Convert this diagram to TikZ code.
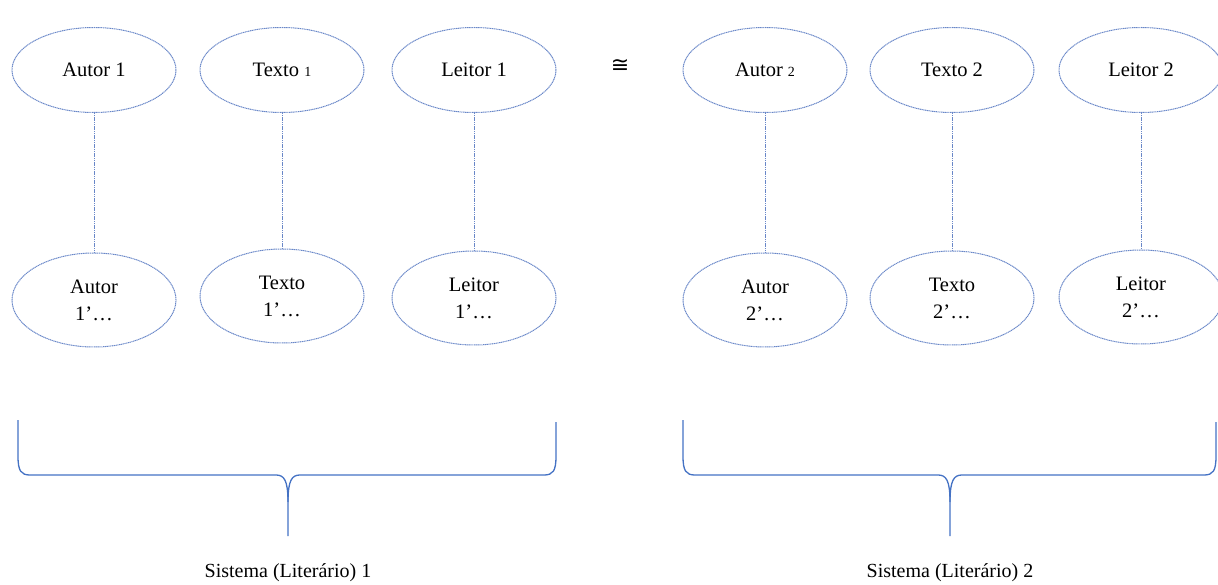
\documentclass[tikz,border=0pt]{standalone}
\usepackage{fontspec}
\setmainfont{Liberation Serif}
\newfontfamily\symfont{DejaVu Sans}
\usetikzlibrary{shapes.geometric}
\definecolor{elline}{RGB}{105,135,200}
\definecolor{brline}{RGB}{68,114,196}
\tikzset{
  elbox/.style={ellipse, draw=elline, dash pattern=on 1.2pt off 0.6pt, line width=1pt, minimum width=164pt, minimum height=85pt, inner sep=0pt, font=\fontsize{20.5}{27}\selectfont, align=center},
  elboxlow/.style={elbox, minimum height=94pt},
  link/.style={draw=elline, dash pattern=on 1.2pt off 0.6pt, line width=1pt},
  bracestyle/.style={draw=brline, line width=1.3pt},
  lbl/.style={font=\fontsize{20}{22}\selectfont}
}
\newcommand{\sm}[1]{{\fontsize{14}{14}\selectfont #1}}
\begin{document}
\begin{tikzpicture}[x=1pt,y=-1pt]
\useasboundingbox (0,0) rectangle (1218,585);
% top row
\node[elbox] (a1) at (94,70) {Autor 1};
\node[elbox] (t1) at (282,70) {Texto \sm{1}};
\node[elbox] (l1) at (474,70) {Leitor 1};
\node[elbox] (a2) at (765,70) {Autor \sm{2}};
\node[elbox] (t2) at (952,70) {Texto 2};
\node[elbox] (l2) at (1141,70) {Leitor 2};
% bottom row
\node[elboxlow] (a1b) at (94,300) {Autor\\1’…};
\node[elboxlow] (t1b) at (282,296) {Texto\\1’…};
\node[elboxlow] (l1b) at (474,298) {Leitor\\1’…};
\node[elboxlow] (a2b) at (765,300) {Autor\\2’…};
\node[elboxlow] (t2b) at (952,298) {Texto\\2’…};
\node[elboxlow] (l2b) at (1141,297) {Leitor\\2’…};
% connectors
\foreach \u/\v in {a1/a1b,t1/t1b,l1/l1b,a2/a2b,t2/t2b,l2/l2b}
  \path[link] (\u.south) -- (\v.north);
% congruence sign
\node[font=\symfont\fontsize{22}{22}\selectfont] (cong) at (620,66) {≅};
% braces
\coordinate (b1l) at (18,420);
\coordinate (b1r) at (556,422);
\coordinate (b1t) at (288,536);
\draw[bracestyle] (b1l) -- (18,456) .. controls (18,471) and (21,475) .. (30,475)
  -- (276,475) .. controls (284,475) and (288,480) .. (288,502) -- (b1t);
\draw[bracestyle] (b1r) -- (556,456) .. controls (556,471) and (553,475) .. (544,475)
  -- (300,475) .. controls (292,475) and (288,480) .. (288,502);
\coordinate (b2l) at (683,420);
\coordinate (b2r) at (1216,422);
\coordinate (b2t) at (950,536);
\draw[bracestyle] (b2l) -- (683,456) .. controls (683,471) and (686,475) .. (695,475)
  -- (938,475) .. controls (946,475) and (950,480) .. (950,502) -- (b2t);
\draw[bracestyle] (b2r) -- (1216,456) .. controls (1216,471) and (1213,475) .. (1204,475)
  -- (962,475) .. controls (954,475) and (950,480) .. (950,502);
% labels
\node[lbl] (s1) at (288,573) {Sistema (Literário) 1};
\node[lbl] (s2) at (950,573) {Sistema (Literário) 2};
\end{tikzpicture}
\end{document}
